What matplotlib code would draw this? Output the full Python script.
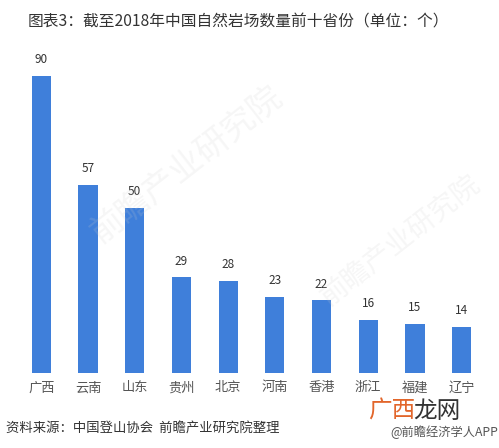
import matplotlib
matplotlib.use("Agg")
import matplotlib.pyplot as plt

plt.rcParams['font.family'] = ['Noto Sans CJK SC', 'DejaVu Sans']

provinces = ['广西', '云南', '山东', '贵州', '北京', '河南', '香港', '浙江', '福建', '辽宁']
counts = [90, 57, 50, 29, 28, 23, 22, 16, 15, 14]

title = '图表3：截至2018年中国自然岩场数量前十省份（单位：个）'
source = '资料来源：中国登山协会  前瞻产业研究院整理'

bar_color = '#3F7FDA'

fig = plt.figure(figsize=(4.99, 4.48), dpi=100)
ax = fig.add_axes([18 / 499, 75 / 448, 467 / 499, 330 / 448])

x = range(len(provinces))
bars = ax.bar(x, counts, width=0.41, color=bar_color, zorder=2)
for xi, v in zip(x, counts):
    ax.annotate(str(v), (xi, v), xytext=(0, 7), textcoords='offset points',
                ha='center', va='bottom', fontsize=8.5, color='#333333')

# faint watermarks, very light
ax.text(0.36, 0.63, '前瞻产业研究院', transform=ax.transAxes, fontsize=24,
        color='#cccccc', rotation=38, ha='center', va='center', alpha=0.18, zorder=3)
ax.text(0.82, 0.40, '前瞻产业研究院', transform=ax.transAxes, fontsize=20,
        color='#cccccc', rotation=38, ha='center', va='center', alpha=0.18, zorder=3)

ax.set_xlim(-0.5, len(provinces) - 0.5)
ax.set_ylim(0, 100)
ax.set_xticks(list(x))
ax.set_xticklabels(provinces, fontsize=9.5, color='#555555')
ax.tick_params(axis='x', length=0, pad=6)
ax.set_yticks([])
for s in ax.spines.values():
    s.set_visible(False)
ax.patch.set_alpha(0)

fig.text(28 / 499, 1 - 22 / 448, title, fontsize=11.3, color='#333333',
         ha='left', va='center')
fig.text(6 / 499, 1 - 429 / 448, source, fontsize=9.6, color='#333333',
         ha='left', va='center', style='italic')
fig.text(498 / 499, 1 - 432 / 448, '@前瞻经济学人APP', fontsize=8.8, color='#555555',
         ha='right', va='center')
fig.text(368 / 499, 1 - 411 / 448, '广西', fontsize=17, color='#E2662B',
         ha='left', va='center')
fig.text(413 / 499, 1 - 411 / 448, '龙网', fontsize=17, color='#333333',
         ha='left', va='center')

fig.savefig('out.png', dpi=100)
